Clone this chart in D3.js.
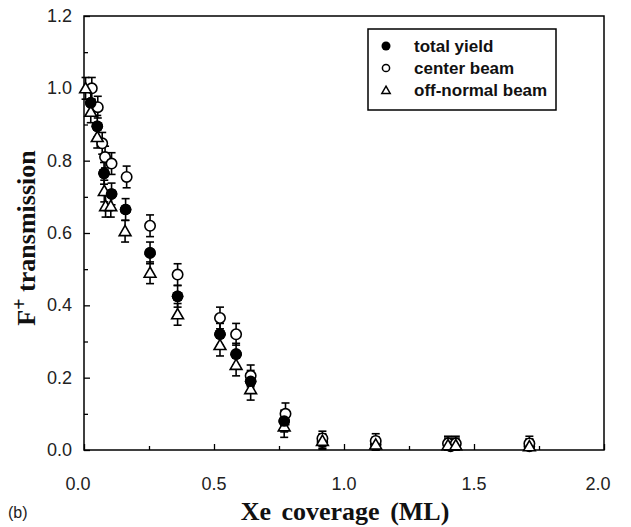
<!DOCTYPE html>
<html><head><meta charset="utf-8">
<script src="https://cdn.jsdelivr.net/npm/d3@7"></script>
<style>body{margin:0;background:#fff}svg{display:block}</style>
</head><body>
<svg id="c" width="631" height="527"></svg>
<script>
// Data
const totalX = [0.026, 0.051, 0.077, 0.106, 0.16, 0.254, 0.36, 0.523, 0.585, 0.641, 0.77, 0.917, 1.122, 1.41, 1.713];
const totalY = [0.96, 0.895, 0.765, 0.708, 0.665, 0.545, 0.425, 0.32, 0.265, 0.19, 0.08, 0.022, 0.015, 0.01, 0.01];
const totalErr = [0.03, 0.03, 0.03, 0.03, 0.03, 0.03, 0.03, 0.03, 0.03, 0.03, 0.03, 0.02, 0.02, 0.02, 0.02];

const centerX = [0.03, 0.053, 0.07, 0.081, 0.106, 0.164, 0.254, 0.36, 0.523, 0.585, 0.641, 0.775, 0.917, 1.122, 1.40, 1.43, 1.713];
const centerY = [1.0, 0.948, 0.848, 0.81, 0.792, 0.755, 0.62, 0.485, 0.365, 0.32, 0.205, 0.10, 0.032, 0.025, 0.018, 0.018, 0.018];
const centerErr = [0.03, 0.03, 0.03, 0.03, 0.03, 0.03, 0.03, 0.03, 0.03, 0.03, 0.03, 0.03, 0.02, 0.02, 0.02, 0.02, 0.02];

const offX = [0.006, 0.026, 0.051, 0.078, 0.083, 0.103, 0.158, 0.254, 0.36, 0.523, 0.585, 0.641, 0.77, 0.917, 1.122, 1.40, 1.43, 1.713];
const offY = [1.0, 0.935, 0.865, 0.716, 0.674, 0.674, 0.605, 0.49, 0.375, 0.29, 0.235, 0.168, 0.065, 0.025, 0.015, 0.013, 0.013, 0.01];
const offErr = [0.03, 0.03, 0.03, 0.03, 0.03, 0.03, 0.03, 0.03, 0.03, 0.03, 0.03, 0.03, 0.03, 0.02, 0.02, 0.02, 0.02, 0.02];

const xTicks = [0, 0.5, 1.0, 1.5, 2.0];
const xTickLabels = ["0.0", "0.5", "1.0", "1.5", "2.0"];
const yTicks = [0, 0.2, 0.4, 0.6, 0.8, 1.0, 1.2];
const yTickLabels = ["0.0", "0.2", "0.4", "0.6", "0.8", "1.0", "1.2"];
const legendLabels = ["total yield", "center beam", "off-normal beam"];

const svg = d3.select("#c");
const L = 84, R = 604, T = 16, B = 450;
const x = d3.scaleLinear().domain([0, 2]).range([L, R]);
const y = d3.scaleLinear().domain([0, 1.2]).range([B, T]);

// frame
svg.append("rect").attr("x", L).attr("y", T).attr("width", R - L).attr("height", B - T)
  .attr("fill", "none").attr("stroke", "#000").attr("stroke-width", 1.5);

// axes with inward ticks
const xAxis = d3.axisBottom(x).tickValues(d3.range(0, 2.001, 0.25)).tickSize(-6).tickFormat("");
svg.append("g").attr("transform", `translate(0,${B})`).call(xAxis)
  .call(g => g.select(".domain").remove())
  .call(g => g.selectAll(".tick line").attr("stroke-width", 1.3)
    .attr("y2", d => (Math.abs(d * 2 - Math.round(d * 2)) < 1e-6) ? -6 : -4));
const yAxis = d3.axisLeft(y).tickValues(d3.range(0, 1.2001, 0.1)).tickSize(-6).tickFormat("");
svg.append("g").attr("transform", `translate(${L},0)`).call(yAxis)
  .call(g => g.select(".domain").remove())
  .call(g => g.selectAll(".tick line").attr("stroke-width", 1.3)
    .attr("x2", d => (Math.abs(d * 5 - Math.round(d * 5)) < 1e-6) ? 6 : 4));

// tick labels
const tf = "Liberation Sans, Arial, sans-serif";
svg.append("g").selectAll("text").data(xTicks).join("text")
  .attr("x", (d, i) => x(d) + (i === 0 ? -6 : (i === 4 ? -6 : 0))).attr("y", 490)
  .attr("text-anchor", "middle").attr("font-family", tf).attr("font-size", 18).attr("fill", "#222")
  .text((d, i) => xTickLabels[i]);
svg.append("g").selectAll("text").data(yTicks).join("text")
  .attr("x", 72).attr("y", d => y(d) + 6)
  .attr("text-anchor", "end").attr("font-family", tf).attr("font-size", 18).attr("fill", "#222")
  .text((d, i) => yTickLabels[i]);

// axis titles
const sf = "Liberation Serif, Times New Roman, serif";
svg.append("text").attr("x", 345).attr("y", 520).attr("text-anchor", "middle")
  .attr("font-family", sf).attr("font-weight", "bold").attr("font-size", 26).attr("fill", "#111")
  .attr("word-spacing", 4).text("Xe coverage (ML)");
const yt = svg.append("text").attr("transform", "translate(35,238) rotate(-90)").attr("text-anchor", "middle")
  .attr("font-family", sf).attr("font-weight", "bold").attr("font-size", 26).attr("fill", "#111");
yt.append("tspan").text("F");
yt.append("tspan").attr("dy", -9).attr("font-size", 20).text("+");
yt.append("tspan").attr("dy", 9).text(" transmission");
svg.append("text").attr("x", 8).attr("y", 518).attr("font-family", tf).attr("font-size", 16).attr("fill", "#222").text("(b)");

// markers
const r = 5.2;
function errbars(xs, ys, es) {
  const g = svg.append("g").attr("stroke", "#000").attr("stroke-width", 1.6);
  xs.forEach((xv, i) => {
    const cx = x(xv), y1 = y(ys[i] + es[i]), y2 = y(Math.max(0, ys[i] - es[i]));
    g.append("line").attr("x1", cx).attr("x2", cx).attr("y1", y1).attr("y2", y2);
    g.append("line").attr("x1", cx - 4).attr("x2", cx + 4).attr("y1", y1).attr("y2", y1);
    g.append("line").attr("x1", cx - 4).attr("x2", cx + 4).attr("y1", y2).attr("y2", y2);
  });
}
errbars(totalX, totalY, totalErr);
errbars(centerX, centerY, centerErr);
errbars(offX, offY, offErr);

const gTot = svg.append("g");
totalX.forEach((xv, i) => gTot.append("circle").attr("cx", x(xv)).attr("cy", y(totalY[i])).attr("r", r + 0.6)
  .attr("fill", "#000"));
const triPath = d3.symbol().type(d3.symbolTriangle).size(60);
function tri(g, cx, cy) {
  g.append("path").attr("d", triPath()).attr("transform", `translate(${cx},${cy + 1})`)
    .attr("fill", "#fff").attr("stroke", "#000").attr("stroke-width", 1.6);
}
const gCen = svg.append("g");
centerX.forEach((xv, i) => gCen.append("circle").attr("cx", x(xv)).attr("cy", y(centerY[i])).attr("r", r)
  .attr("fill", "#fff").attr("stroke", "#000").attr("stroke-width", 1.6));
const gOff = svg.append("g");
offX.forEach((xv, i) => tri(gOff, x(xv), y(offY[i])));
// filled points in the upper part drawn on top, as in the reference
const gTop = svg.append("g");
totalX.forEach((xv, i) => { if (totalY[i] > 0.05) gTop.append("circle").attr("cx", x(xv)).attr("cy", y(totalY[i])).attr("r", r + 0.6).attr("fill", "#000"); });

// legend
const lg = svg.append("g");
lg.append("rect").attr("x", 368).attr("y", 29).attr("width", 188).attr("height", 81)
  .attr("fill", "#fff").attr("stroke", "#000").attr("stroke-width", 1.5);
const rows = [46, 68, 90];
lg.append("circle").attr("cx", 386).attr("cy", rows[0]).attr("r", 4.5).attr("fill", "#000");
lg.append("circle").attr("cx", 386).attr("cy", rows[1]).attr("r", 3.6).attr("fill", "#fff").attr("stroke", "#000").attr("stroke-width", 1.5);
lg.append("path").attr("d", d3.symbol().type(d3.symbolTriangle).size(30)()).attr("transform", `translate(386,${rows[2] + 1})`)
  .attr("fill", "#fff").attr("stroke", "#000").attr("stroke-width", 1.5);
lg.selectAll("text.l").data(legendLabels).join("text").attr("class", "l")
  .attr("x", 414).attr("y", (d, i) => rows[i] + 6)
  .attr("font-family", tf).attr("font-weight", "bold").attr("font-size", 17).attr("fill", "#111")
  .text(d => d);
</script>
</body></html>
